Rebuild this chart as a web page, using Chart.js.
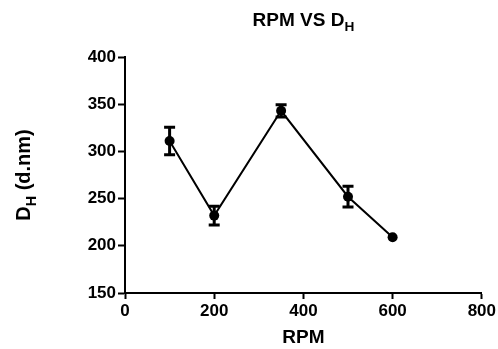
<!DOCTYPE html>
<html>
<head>
<meta charset="utf-8">
<script src="https://cdn.jsdelivr.net/npm/chart.js@4"></script>
<style>
  html, body { margin: 0; padding: 0; background: #fff; }
  #wrap { width: 498px; height: 349px; position: relative; }
</style>
</head>
<body>
<div id="wrap"><canvas id="chart"></canvas></div>
<script>
// values
const rpm = [100, 200, 350, 500, 600];
const dh = [311, 232, 343, 252, 209];
const dhErr = [14.5, 10, 6.5, 11, 0];

const xTicks = [0, 200, 400, 600, 800];
const yTicks = [150, 200, 250, 300, 350, 400];

const FONT = "'Liberation Sans', Arial, sans-serif";

// text with a subscript, drawn left to right from x
function drawSub(ctx, parts, x, y, size) {
  let cx = x;
  parts.forEach(p => {
    const s = p.sub ? size * 0.72 : size;
    ctx.font = 'bold ' + s + 'px ' + FONT;
    ctx.fillText(p.t, cx, p.sub ? y + size * 0.28 : y);
    cx += ctx.measureText(p.t).width;
  });
}
function subWidth(ctx, parts, size) {
  let w = 0;
  parts.forEach(p => {
    ctx.font = 'bold ' + (p.sub ? size * 0.72 : size) + 'px ' + FONT;
    w += ctx.measureText(p.t).width;
  });
  return w;
}

const labelsPlugin = {
  id: 'labels',
  afterDraw(chart) {
    const ctx = chart.ctx;
    const area = chart.chartArea;
    ctx.save();
    ctx.fillStyle = '#000';
    ctx.textBaseline = 'alphabetic';

    // title
    const title = [{ t: 'RPM VS D' }, { t: 'H', sub: true }];
    const tw = subWidth(ctx, title, 19);
    drawSub(ctx, title, (area.left + area.right) / 2 - tw / 2, 26, 19);

    // y axis title, rotated
    const yt = [{ t: 'D' }, { t: 'H', sub: true }, { t: ' (d.nm)' }];
    const yw = subWidth(ctx, yt, 20);
    ctx.translate(30, (area.top + area.bottom) / 2);
    ctx.rotate(-Math.PI / 2);
    drawSub(ctx, yt, -yw / 2, 0, 20);
    ctx.restore();
  }
};

// error bars, placed with the chart's own scales
const errorBars = {
  id: 'errorBars',
  afterDatasetsDraw(chart) {
    const ctx = chart.ctx;
    const xs = chart.scales.x, ys = chart.scales.y;
    ctx.save();
    ctx.strokeStyle = '#000';
    ctx.lineWidth = 3;
    rpm.forEach((r, i) => {
      if (!dhErr[i]) return;
      const px = xs.getPixelForValue(r);
      const top = ys.getPixelForValue(dh[i] + dhErr[i]);
      const bot = ys.getPixelForValue(dh[i] - dhErr[i]);
      ctx.beginPath();
      ctx.moveTo(px, top); ctx.lineTo(px, bot);
      ctx.moveTo(px - 5.5, top); ctx.lineTo(px + 5.5, top);
      ctx.moveTo(px - 5.5, bot); ctx.lineTo(px + 5.5, bot);
      ctx.stroke();
    });
    ctx.restore();
  }
};

new Chart(document.getElementById('chart'), {
  type: 'scatter',
  data: {
    datasets: [{
      data: rpm.map((r, i) => ({ x: r, y: dh[i] })),
      showLine: true,
      borderColor: '#000',
      borderWidth: 2,
      backgroundColor: '#000',
      pointRadius: 5,
      pointBorderWidth: 0
    }]
  },
  options: {
    responsive: true,
    maintainAspectRatio: false,
    animation: false,
    layout: { padding: { top: 57, right: 15, left: 0, bottom: 0 } },
    plugins: { legend: { display: false }, tooltip: { enabled: false } },
    scales: {
      x: {
        type: 'linear',
        min: 0, max: 800,
        afterBuildTicks: s => { s.ticks = xTicks.map(v => ({ value: v })); },
        afterFit: s => { s.height = 56; },
        border: { display: true, color: '#000', width: 2 },
        grid: { drawOnChartArea: false, drawTicks: true, tickLength: 6, tickWidth: 2, tickColor: '#000' },
        ticks: { color: '#000', padding: 2, maxRotation: 0, font: { family: FONT, size: 17, weight: 'bold' } },
        title: { display: true, text: 'RPM', color: '#000', padding: { top: 0, bottom: 0 }, font: { family: FONT, size: 19, weight: 'bold' } }
      },
      y: {
        min: 150, max: 400,
        afterBuildTicks: s => { s.ticks = yTicks.map(v => ({ value: v })); },
        afterFit: s => { s.width = 125; },
        border: { display: true, color: '#000', width: 2 },
        grid: { drawOnChartArea: false, drawTicks: true, tickLength: 7, tickWidth: 2, tickColor: '#000' },
        ticks: { color: '#000', padding: 2, font: { family: FONT, size: 17, weight: 'bold' } }
      }
    }
  },
  plugins: [labelsPlugin, errorBars]
});
</script>
</body>
</html>
